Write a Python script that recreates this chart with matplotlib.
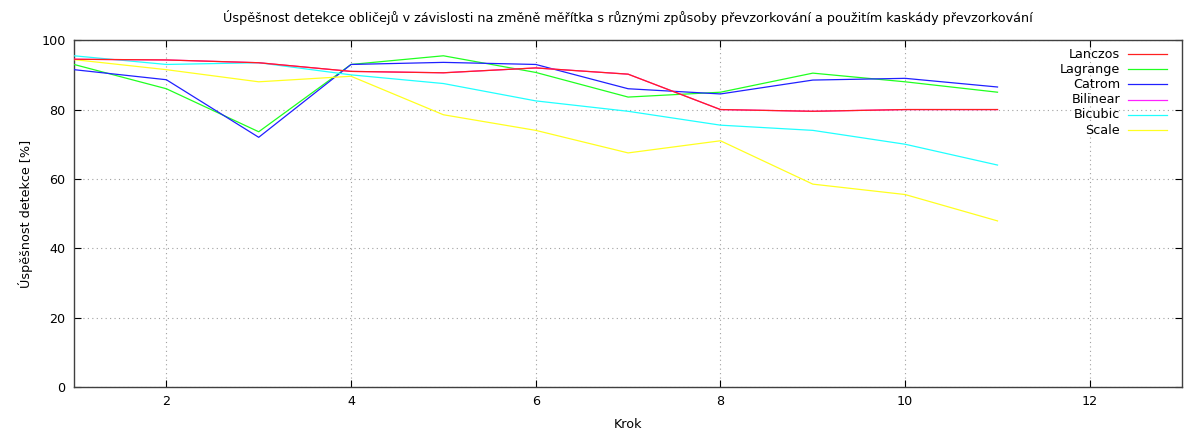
import matplotlib
matplotlib.use("Agg")
import matplotlib.pyplot as plt

plt.rcParams["font.family"] = ["DejaVu Sans"]

steps = [1, 2, 3, 4, 5, 6, 7, 8, 9, 10, 11]

lanczos = [94.5, 94.3, 93.5, 91.0, 90.6, 92.0, 90.2, 80.0, 79.5, 80.0, 80.0]
lagrange = [93.0, 86.0, 73.6, 93.0, 95.5, 90.7, 83.6, 85.0, 90.5, 88.0, 85.0]
catrom = [91.5, 88.6, 72.0, 93.0, 93.6, 93.0, 86.0, 84.5, 88.5, 89.0, 86.5]
bilinear = [94.5, 94.3, 93.5, 91.0, 90.6, 92.0, 90.2, 80.0, 79.5, 80.0, 80.0]
bicubic = [95.5, 93.0, 93.5, 90.0, 87.5, 82.5, 79.5, 75.5, 74.0, 70.0, 64.0]
scale = [94.4, 91.5, 88.0, 89.6, 78.5, 74.0, 67.5, 71.0, 58.5, 55.5, 47.9]

names = ["Lanczos", "Lagrange", "Catrom", "Bilinear", "Bicubic", "Scale"]
series = [lanczos, lagrange, catrom, bilinear, bicubic, scale]
colors = ["#ff2020", "#20ff20", "#2020ff", "#ff20ff", "#20ffff", "#ffff20"]
zorders = [3.2, 3, 3, 3.1, 3, 3]

FS = 9.2

fig = plt.figure(figsize=(11.84, 4.32), dpi=100)
ax = fig.add_axes([0.0625, 0.104, 0.936, 0.803])

for vals, name, c, z in zip(series, names, colors, zorders):
    ax.plot(steps, vals, color=c, lw=0.9, zorder=z)

ax.set_xlim(1, 13)
ax.set_ylim(0, 100)
ax.set_xticks([2, 4, 6, 8, 10, 12])
ax.set_yticks([0, 20, 40, 60, 80, 100])
ax.tick_params(direction="in", top=True, right=True, length=5, labelsize=FS, pad=6)
ax.grid(True, linestyle=(0, (1, 3)), color="#a0a0a0", lw=0.8)
for sp in ax.spines.values():
    sp.set_color("#404040")
    sp.set_linewidth(1.0)

ax.set_title("Úspěšnost detekce obličejů v závislosti na změně měřítka s různými způsoby převzorkování a použitím kaskády převzorkování",
             fontsize=FS, pad=13)
ax.set_xlabel("Krok", fontsize=FS, labelpad=7)
ax.set_ylabel("Úspěšnost detekce [%]", fontsize=FS, labelpad=6)

# gnuplot-style key: label right-aligned, sample to the right
for i, (name, c) in enumerate(zip(names, colors)):
    y = 0.96 - i * 0.0438
    ax.text(0.944, y, name, transform=ax.transAxes, ha="right", va="center", fontsize=FS)
    ax.plot([0.951, 0.9865], [y, y], transform=ax.transAxes, color=c, lw=0.9)

fig.savefig("out.png", dpi=100)
